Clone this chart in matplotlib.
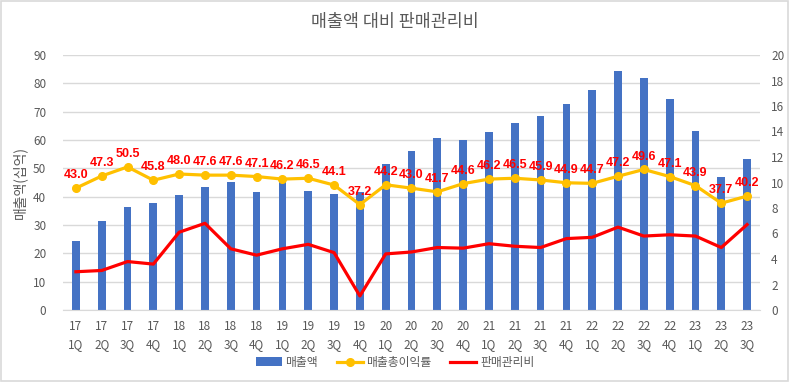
import matplotlib
matplotlib.use("Agg")
import matplotlib.pyplot as plt
from matplotlib.patches import Rectangle

plt.rcParams['font.family'] = ['Noto Sans CJK KR', 'DejaVu Sans']

quarters = ["17\n1Q", "17\n2Q", "17\n3Q", "17\n4Q",
            "18\n1Q", "18\n2Q", "18\n3Q", "18\n4Q",
            "19\n1Q", "19\n2Q", "19\n3Q", "19\n4Q",
            "20\n1Q", "20\n2Q", "20\n3Q", "20\n4Q",
            "21\n1Q", "21\n2Q", "21\n3Q", "21\n4Q",
            "22\n1Q", "22\n2Q", "22\n3Q", "22\n4Q",
            "23\n1Q", "23\n2Q", "23\n3Q"]

# 매출액 (십억) - left axis
sales = [24.4, 31.4, 36.5, 37.9, 40.5, 43.4, 45.3, 41.5, 46.0, 42.0, 41.1, 41.5,
         51.4, 56.1, 60.8, 59.9, 63.0, 66.0, 68.6, 72.6, 77.6, 84.5, 82.0, 74.5,
         63.3, 47.0, 53.4]

# 매출총이익률 (%) - left axis
gross_margin = [43.0, 47.3, 50.5, 45.8, 48.0, 47.6, 47.6, 47.1, 46.2, 46.5, 44.1, 37.2,
                44.2, 43.0, 41.7, 44.6, 46.2, 46.5, 45.9, 44.9, 44.7, 47.2, 49.6, 47.1,
                43.9, 37.7, 40.2]

# 판매관리비 - right axis
sga = [3.0, 3.1, 3.8, 3.6, 6.1, 6.8, 4.8, 4.3, 4.8, 5.15, 4.5, 1.1,
       4.4, 4.55, 4.9, 4.85, 5.2, 5.0, 4.9, 5.6, 5.7, 6.5, 5.8, 5.9,
       5.8, 4.9, 6.7]

blue = "#4472C4"
yellow = "#FFC000"
red = "#FF0000"
grid_c = "#D9D9D9"
text_c = "#595959"

fig = plt.figure(figsize=(7.9, 3.82), dpi=100)
ax1 = fig.add_axes([63 / 790, 1 - 310 / 382, 697 / 790, 255 / 382])
ax2 = ax1.twinx()

x = list(range(len(quarters)))

bars = ax1.bar(x, sales, width=0.3, color=blue, zorder=2, label="매출액")
gm_line, = ax1.plot(x, gross_margin, color=yellow, lw=2.3, marker="o", ms=5.5,
                    zorder=3, label="매출총이익률")
for xi, v in zip(x, gross_margin):
    ax1.annotate(f"{v:.1f}", (xi, v), xytext=(0, 5), textcoords="offset points",
                 ha="center", va="bottom", color=red, fontsize=9,
                 fontweight="bold", family="Liberation Sans", zorder=5)

sga_line, = ax2.plot(x, sga, color=red, lw=2.3, zorder=3, label="판매관리비")

ax1.set_xlim(-0.5, len(quarters) - 0.5)
ax1.set_ylim(0, 90)
ax2.set_ylim(0, 20)
ax1.set_yticks(range(0, 91, 10))
ax2.set_yticks(range(0, 21, 2))
ax1.set_xticks(x)
ax1.set_xticklabels(quarters, linespacing=1.5)

ax1.grid(axis="y", color=grid_c, lw=1, zorder=0)
ax1.set_axisbelow(True)
for ax in (ax1, ax2):
    for s in ax.spines.values():
        s.set_visible(False)
    ax.tick_params(length=0, colors=text_c, labelsize=8.5)
ax1.spines["bottom"].set_visible(True)
ax1.spines["bottom"].set_color(grid_c)
ax1.tick_params(axis="y", pad=12)
ax2.tick_params(axis="y", pad=8)
ax1.tick_params(axis="x", pad=7)

ax1.set_ylabel("매출액(십억)", color=text_c, fontsize=10, labelpad=4)

fig.suptitle("매출액 대비 판매관리비", y=0.965, fontsize=12.5, color=text_c)

fig.legend([bars, gm_line, sga_line], ["매출액", "매출총이익률", "판매관리비"],
           loc="center", bbox_to_anchor=(0.5, 0.052), ncol=3,
           frameon=False, fontsize=8.5, labelcolor=text_c, handlelength=2.2,
           handletextpad=0.3, columnspacing=1.6)

fig.patches.append(Rectangle((0.001, 0.002), 0.997, 0.995, transform=fig.transFigure,
                             fill=False, edgecolor=grid_c, lw=1.2))

fig.savefig("out.png", dpi=100)
